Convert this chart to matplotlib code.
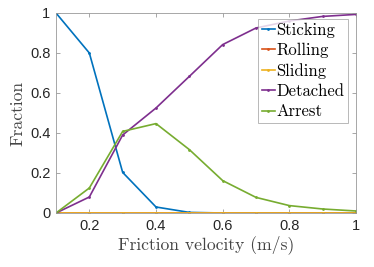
import numpy as np
import matplotlib
matplotlib.use('Agg')
import matplotlib.pyplot as plt

velocity = [0.1, 0.2, 0.3, 0.4, 0.5, 0.6, 0.7, 0.8, 0.9, 1.0]
sticking = [1.0, 0.80, 0.203, 0.03, 0.003, 0, 0, 0, 0, 0]
rolling = [0, 0, 0, 0, 0, 0, 0, 0, 0, 0]
sliding = [0, 0, 0, 0, 0, 0, 0, 0, 0, 0]
detached = [0, 0.08, 0.39, 0.525, 0.683, 0.842, 0.925, 0.96, 0.983, 0.993]
arrest = [0, 0.125, 0.408, 0.447, 0.317, 0.162, 0.078, 0.037, 0.02, 0.01]

names = ['Sticking', 'Rolling', 'Sliding', 'Detached', 'Arrest']
series = [sticking, rolling, sliding, detached, arrest]
colors = ['#0072BD', '#D95319', '#EDB120', '#7E2F8E', '#77AC30']

xticks = [0.2, 0.4, 0.6, 0.8, 1.0]
xticklabels = ['0.2', '0.4', '0.6', '0.8', '1']
yticks = [0, 0.2, 0.4, 0.6, 0.8, 1.0]
yticklabels = ['0', '0.2', '0.4', '0.6', '0.8', '1']

fig = plt.figure(figsize=(3.74, 2.67), dpi=100)
ax = fig.add_axes([56/374, 54/267, 300/374, 200/267])

for name, vals, c in zip(names, series, colors):
    ax.plot(velocity, vals, color=c, lw=1.2, marker='.', markersize=2, label=name)

ax.set_xlim(0.1, 1.0)
ax.set_ylim(0, 1)
ax.set_xticks(xticks)
ax.set_xticklabels(xticklabels)
ax.set_yticks(yticks)
ax.set_yticklabels(yticklabels)

axcol = '#262626'
for s in ax.spines.values():
    s.set_color('#999999')
    s.set_linewidth(0.6)
ax.tick_params(direction='in', length=3, width=0.6, color='#999999',
               top=True, right=True, labelcolor=axcol, pad=4)
for lab in ax.get_xticklabels() + ax.get_yticklabels():
    lab.set_fontfamily('Liberation Sans')
    lab.set_fontsize(10.5)

ax.set_xlabel('Friction velocity (m/s)', family='cmr10', fontsize=12.7, color='#444444', labelpad=2)
ax.set_ylabel('Fraction', family='cmr10', fontsize=12.7, color='#444444', labelpad=3)

leg = ax.legend(loc='upper right', bbox_to_anchor=(0.973, 0.97), prop={'family': 'cmr10', 'size': 12},
                frameon=True, fancybox=False, handlelength=0.8, handletextpad=0.1,
                borderpad=0.2, labelspacing=0.3, borderaxespad=0)
leg.get_frame().set_edgecolor('#999999')
leg.get_frame().set_linewidth(0.6)

fig.savefig('out.png', dpi=100)
